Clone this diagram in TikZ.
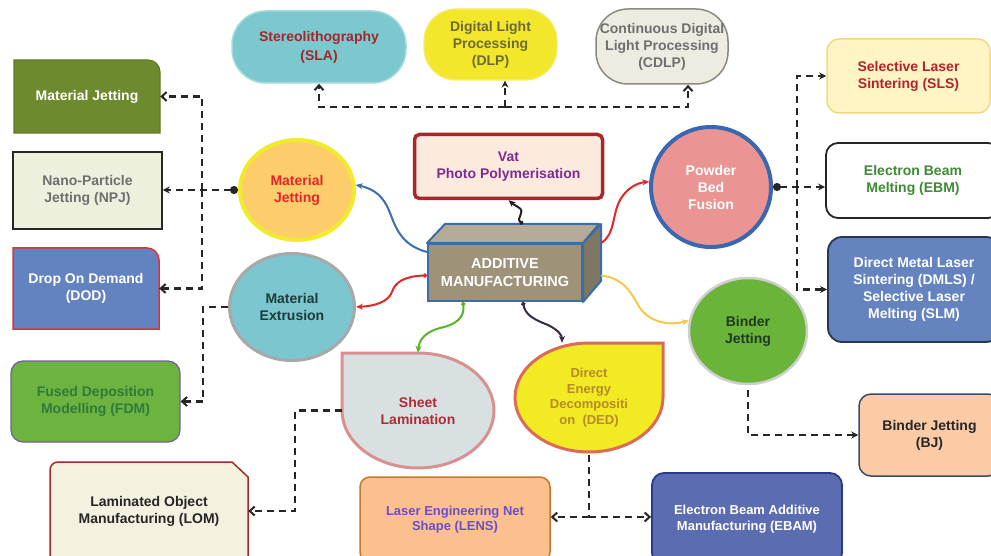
\documentclass[tikz,border=0pt]{standalone}
\usepackage{fontspec}
\setmainfont{Liberation Sans}
\usetikzlibrary{shapes.geometric,arrows.meta}
\definecolor{slaF}{HTML}{7CC8CF}\definecolor{slaD}{HTML}{A6D9DD}\definecolor{slaT}{HTML}{A3262A}
\definecolor{dlpF}{HTML}{F2E72B}\definecolor{dlpD}{HTML}{F4EC6A}\definecolor{dlpT}{HTML}{6E6A35}
\definecolor{cdlpF}{HTML}{EEEBE1}\definecolor{cdlpD}{HTML}{8C8A80}\definecolor{grayT}{HTML}{6F6F6F}
\definecolor{mjbF}{HTML}{6E8A2E}\definecolor{mjbD}{HTML}{5E7A28}
\definecolor{npjF}{HTML}{EEF0DE}
\definecolor{dodF}{HTML}{6283C0}\definecolor{dodD}{HTML}{E0303A}
\definecolor{fdmF}{HTML}{6CB43F}\definecolor{fdmD}{HTML}{7A5AA0}\definecolor{fdmT}{HTML}{2F7A3C}
\definecolor{lomF}{HTML}{F5F1E1}\definecolor{lomD}{HTML}{A52A2A}
\definecolor{mjF}{HTML}{FECD6B}\definecolor{mjD}{HTML}{F0EC2A}\definecolor{mjT}{HTML}{E3262D}
\definecolor{meF}{HTML}{7CC6CF}\definecolor{meD}{HTML}{A8A8A8}\definecolor{meT}{HTML}{1E3B3B}
\definecolor{vatF}{HTML}{FDEADF}\definecolor{vatD}{HTML}{A8282A}\definecolor{vatT}{HTML}{7B2C8E}
\definecolor{amF}{HTML}{9E9379}\definecolor{amTop}{HTML}{B4AC98}\definecolor{amSide}{HTML}{7E7764}\definecolor{amD}{HTML}{3C6EA5}
\definecolor{pbF}{HTML}{EA9494}\definecolor{pbD}{HTML}{3A67B0}
\definecolor{slsF}{HTML}{FEF4C4}\definecolor{slsD}{HTML}{F3D97E}\definecolor{slsT}{HTML}{B3232B}
\definecolor{ebmT}{HTML}{3F8A33}
\definecolor{dmlsF}{HTML}{6583BF}\definecolor{dmlsD}{HTML}{2A3550}
\definecolor{bjcF}{HTML}{6AB43A}\definecolor{bjcD}{HTML}{CFCFCF}\definecolor{bjcT}{HTML}{1F3A20}
\definecolor{bjF}{HTML}{FBCBA6}\definecolor{bjD}{HTML}{3A4A6A}
\definecolor{slF}{HTML}{D8E0E1}\definecolor{slD}{HTML}{D99090}\definecolor{slT}{HTML}{B02A35}
\definecolor{dedF}{HTML}{F2EA22}\definecolor{dedD}{HTML}{DA6A5A}\definecolor{dedT}{HTML}{B58A2C}
\definecolor{lensF}{HTML}{FBC08E}\definecolor{lensD}{HTML}{C07A2A}\definecolor{lensT}{HTML}{6A50C8}
\definecolor{ebamF}{HTML}{5B6CB0}\definecolor{ebamD}{HTML}{2A3A8A}
\definecolor{cBlue}{HTML}{3A6FB0}\definecolor{cRed}{HTML}{E02828}\definecolor{cBlack}{HTML}{222222}
\definecolor{cGreen}{HTML}{5AB42A}\definecolor{cPurple}{HTML}{3A2A4A}\definecolor{cYellow}{HTML}{F5C84A}
\tikzset{
 lbl/.style={font=\bfseries\fontsize{14}{17}\selectfont, align=center, inner sep=0pt},
 sml/.style={font=\bfseries\fontsize{13}{15.5}\selectfont, align=center, inner sep=0pt},
 dd/.style={line width=2.2pt, dash pattern=on 7pt off 5pt, black!85},
 darr/.style={dd, -{Straight Barb[length=5pt,width=9pt,line width=2pt]}},
 farr/.style={dd, -{Stealth[length=7pt,width=7pt]}},
 dotarr/.style={dd, {Circle[length=8pt]}-{Stealth[length=7pt,width=7pt]}},
 curve/.style={line width=2pt, -{Stealth[length=7pt,width=6pt]}},
 dcurve/.style={line width=2pt, {Circle[length=4pt]}-{Stealth[length=7pt,width=6pt]}},
}
\begin{document}
\begin{tikzpicture}[x=1pt,y=-1pt]
\useasboundingbox (0,0) rectangle (991,556);
\fill[white] (0,0) rectangle (991,556);

% ---- top row
\node[lbl, draw=slaD, fill=slaF, line width=1.5pt, rounded corners=34pt, minimum width=174pt, minimum height=72pt, text=slaT] (sla) at (319,47) {Stereolithography\\[2pt](SLA)};
\node[lbl, draw=dlpD, fill=dlpF, line width=1.2pt, rounded corners=32pt, minimum width=133pt, minimum height=71pt, text=dlpT] (dlp) at (490.5,44.5) {Digital Light\\Processing\\(DLP)};
\node[lbl, draw=cdlpD, fill=cdlpF, line width=1.5pt, rounded corners=32pt, minimum width=132pt, minimum height=75pt, text=grayT] (cdlp) at (662,46.5) {Continuous Digital\\Light Processing\\(CDLP)};
\node[lbl, draw=vatD, fill=vatF, line width=3.5pt, rounded corners=5pt, minimum width=188pt, minimum height=64pt, text=vatT] (vat) at (508.5,166.5) {Vat\\Photo Polymerisation};

% ---- left column
\draw[fill=mjbF, draw=mjbD, line width=1.2pt] (14,133) -- (14,60) -- (148,60) arc[start angle=-90,end angle=0,radius=12] -- (160,133) -- cycle;
\node[lbl, text=white, minimum width=146pt, minimum height=73pt] (mjbox) at (87,96.5) {Material Jetting};
\node[lbl, draw=black!85, fill=npjF, line width=1.5pt, minimum width=149pt, minimum height=77pt, text=grayT] (npj) at (87.5,190.5) {Nano-Particle\\Jetting (NPJ)};
\draw[fill=dodF, draw=dodD, line width=1.5pt] (13,329) -- (13,248) -- (147,248) arc[start angle=-90,end angle=0,radius=12] -- (159,329) -- cycle;
\node[lbl, text=white, minimum width=146pt, minimum height=81pt] (dod) at (86,288.5) {Drop On Demand\\(DOD)};
\node[lbl, draw=fdmD, fill=fdmF, line width=1.2pt, rounded corners=12pt, minimum width=169pt, minimum height=81pt, text=fdmT] (fdm) at (95.5,401.5) {Fused Deposition\\Modelling (FDM)};
\draw[fill=lomF, draw=lomD, line width=1.5pt] (50,565) -- (50,470) arc[start angle=180,end angle=270,radius=8] -- (232,462) -- (248,477) -- (248,565) -- cycle;
\node[lbl, text=black!85, minimum width=198pt, minimum height=98pt] (lom) at (149,511) {Laminated Object\\Manufacturing (LOM)};

% ---- ellipses
\node[lbl, ellipse, draw=mjD, fill=mjF, line width=4pt, minimum width=114pt, minimum height=100pt, text=mjT] (mj) at (297,190) {Material\\Jetting};
\node[lbl, ellipse, draw=meD, fill=meF, line width=3pt, minimum width=125pt, minimum height=107pt, text=meT] (me) at (292,307) {Material\\Extrusion};

% ---- centre box
\node[lbl, draw=amD, fill=amF, line width=2pt, minimum width=154pt, minimum height=57pt, text=white, font=\bfseries\fontsize{14.5}{17.5}\selectfont] (am) at (505,272.5) {ADDITIVE\\MANUFACTURING};
\draw[amD, line width=2pt, fill=amTop, line join=round] (am.north west) -- ++(18,-19) -- ++(154,0) -- (am.north east) -- cycle;
\draw[amD, line width=2pt, fill=amSide, line join=round] (am.north east) -- ++(18,-19) -- ++(0,57) -- (am.south east) -- cycle;

% ---- circles right
\node[lbl, circle, draw=pbD, fill=pbF, line width=4pt, minimum size=120pt, text=white] (pb) at (711,187) {Powder\\Bed\\Fusion};
\node[lbl, ellipse, draw=bjcD, fill=bjcF, line width=2.5pt, minimum width=118pt, minimum height=106pt, text=bjcT] (bjc) at (748,331) {Binder\\Jetting};

% ---- right column
\node[lbl, draw=slsD, fill=slsF, line width=1.5pt, rounded corners=12pt, minimum width=163pt, minimum height=74pt, text=slsT] (sls) at (908.5,76) {Selective Laser\\Sintering (SLS)};
\node[lbl, draw=black!85, fill=white, line width=1.8pt, rounded corners=12pt, minimum width=174pt, minimum height=75pt, text=ebmT] (ebm) at (913,180.5) {Electron Beam\\Melting (EBM)};
\node[lbl, draw=dmlsD, fill=dmlsF, line width=1.8pt, rounded corners=14pt, minimum width=172pt, minimum height=105pt, text=white] (dmls) at (914,289.5) {Direct Metal Laser\\Sintering (DMLS) /\\Selective Laser\\Melting (SLM)};
\node[lbl, draw=bjD, fill=bjF, line width=1.5pt, rounded corners=12pt, minimum width=141pt, minimum height=82pt, text=black!85] (bj) at (929.5,435) {Binder Jetting\\(BJ)};

% ---- bottom
\draw[fill=slF, draw=slD, line width=3pt] (342,353) -- (418,353) arc[start angle=-90,end angle=180,x radius=76,y radius=57.5] -- cycle;
\node[lbl, text=slT, minimum width=152pt, minimum height=115pt] (sl) at (418,410.5) {Sheet\\Lamination};
\draw[fill=dedF, draw=dedD, line width=3pt] (663,343) -- (663,397.5) arc[start angle=0,end angle=270,x radius=74,y radius=54.5] -- cycle;
\node[sml, text=dedT, minimum width=148pt, minimum height=109pt] (ded) at (589,397.5) {Direct\\Energy\\Decompositi\\on\ \ (DED)};
\node[sml, draw=lensD, fill=lensF, line width=1.5pt, rounded corners=10pt, minimum width=190pt, minimum height=85pt, text=lensT] (lens) at (455,519.5) {Laser Engineering Net\\Shape (LENS)};
\node[sml, draw=ebamD, fill=ebamF, line width=1.8pt, rounded corners=12pt, minimum width=190pt, minimum height=92pt, text=white] (ebam) at (747,519) {Electron Beam Additive\\Manufacturing (EBAM)};

% ---- dashed connectors
\coordinate (vj) at (505,107);
\draw[darr] (vj) -| (sla.south);
\draw[farr] (vj) -- (vj |- dlp.south);
\draw[darr] (vj) -| ([xshift=26pt]cdlp.south);

\draw[dotarr] (mj.west) -- (mj.west -| npj.east);
\coordinate (lj) at (202,190);
\draw[darr] (lj) |- (mjbox.east);
\draw[darr] (lj) |- (dod.east);
\coordinate (lk) at (203,307);
\draw[darr] (me.west) -- (lk) |- (fdm.east);

\draw[dotarr] (pb.east) -- (pb.east -| ebm.west);
\coordinate (rj) at (797,187);
\draw[farr] (rj) |- (sls.west);
\draw[farr] (rj) |- (dmls.west);

\draw[farr] ([yshift=-5pt]bjc.south) |- (bj.west);

\coordinate (sj) at (295,410.5);
\draw[darr] (sl.west) -- (sj) |- (lom.east);

\coordinate (dj) at (589,517);
\draw[dd] ([yshift=-3pt]ded.south) -- (dj);
\draw[darr] (dj) -- (dj -| lens.east);
\draw[darr] (dj) -- (dj -| ebam.west);

% ---- curved arrows from centre
\draw[curve, cBlue] ([yshift=-9pt]am.north west) .. controls (400,245) and (395,225) .. (390,213) .. controls (384,197) and (375,189) .. (mj.5);
\draw[dcurve, cRed] ([yshift=-3pt]am.west) .. controls (405,276) and (395,282) .. (392,292) .. controls (388,302) and (375,306) .. (me.east);
\draw[dcurve, cBlack] ([shift={(18,-19)}]am.north) .. controls (515,218) and (527,212) .. (518,207) .. controls (513,204) .. (vat.south);
\draw[curve, cRed] ([xshift=18pt]am.north east) .. controls (615,235) and (612,215) .. (620,200) .. controls (627,188) and (637,183) .. (pb.175);
\draw[curve, cYellow] ([xshift=18pt,yshift=-3pt]am.east) .. controls (625,278) and (632,295) .. (640,308) .. controls (650,322) and (668,326) .. (bjc.170);
\draw[dcurve, cGreen] ([xshift=-42pt]am.south) .. controls (465,318) and (455,325) .. (440,328) .. controls (425,332) and (419,340) .. (sl.north);
\draw[dcurve, cPurple] ([xshift=18pt]am.south) .. controls (525,315) and (535,320) .. (548,325) .. controls (558,330) and (562,335) .. ([xshift=-27pt]ded.north);
\end{tikzpicture}
\end{document}
